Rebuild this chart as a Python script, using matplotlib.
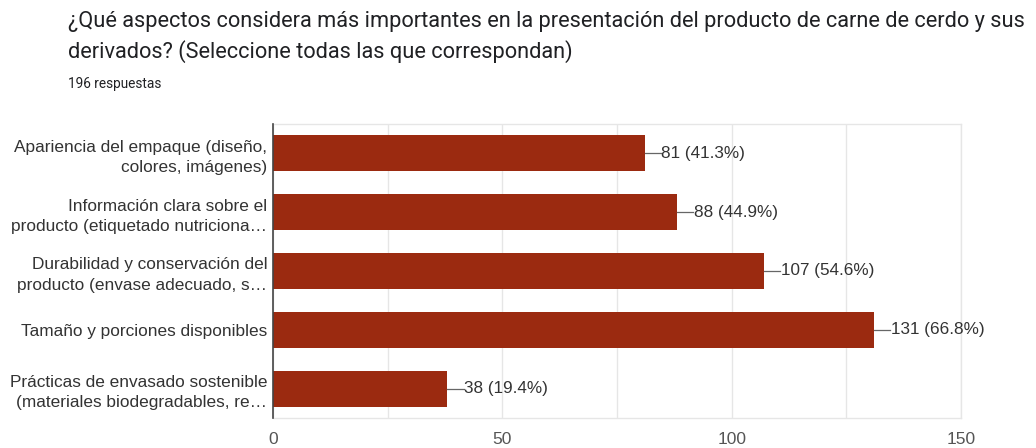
import matplotlib
matplotlib.use("Agg")
import matplotlib.pyplot as plt

plt.rcParams['font.family'] = ['Roboto', 'DejaVu Sans']

categories = [
    "Apariencia del empaque (diseño,\ncolores, imágenes)",
    "Información clara sobre el\nproducto (etiquetado nutriciona…",
    "Durabilidad y conservación del\nproducto (envase adecuado, s…",
    "Tamaño y porciones disponibles",
    "Prácticas de envasado sostenible\n(materiales biodegradables, re…",
]
values = [81, 88, 107, 131, 38]
percents = ["41.3%", "44.9%", "54.6%", "66.8%", "19.4%"]
xticks = [0, 50, 100, 150]
minor_ticks = [25, 75, 125]

title_lines = [
    "¿Qué aspectos considera más importantes en la presentación del producto de carne de cerdo y sus",
    "derivados? (Seleccione todas las que correspondan)",
]
subtitle = "196 respuestas"

chart_font = ['Liberation Sans', 'DejaVu Sans']

W, H = 1036, 448
fig = plt.figure(figsize=(W / 100, H / 100), dpi=100)
ax = fig.add_axes([273 / W, 1 - 418 / H, (961 - 273) / W, (418 - 124) / H])

bar_color = "#9b2a10"
ypos = list(range(len(categories)))
ax.barh(ypos, values, height=0.61, color=bar_color, zorder=3)
ax.set_ylim(len(categories) - 0.5, -0.5)
ax.set_xlim(0, 150)

for y, v, p in zip(ypos, values, percents):
    ax.plot([v, v + 3.6], [y, y], color="#666666", lw=0.9, zorder=3, clip_on=False)
    ax.text(v + 3.7, y, f"{v} ({p})", va="center", ha="left", fontsize=12.3,
            color="#333333", zorder=4, family=chart_font)

ax.set_yticks(ypos)
ax.set_yticklabels(categories, fontsize=12.4, color="#333333", linespacing=1.45,
                   family=chart_font)
ax.set_xticks(xticks)
ax.set_xticklabels([str(t) for t in xticks], fontsize=12.5, color="#555555",
                   family=chart_font)
ax.set_xticks(minor_ticks, minor=True)
ax.tick_params(axis="both", which="both", length=0)
ax.tick_params(axis="x", pad=10)
ax.tick_params(axis="y", pad=4)
ax.grid(axis="x", which="both", color="#e6e6e6", lw=1, zorder=0)

for s in ["top", "right", "bottom"]:
    ax.spines[s].set_color("#e6e6e6")
    ax.spines[s].set_linewidth(1)
ax.spines["left"].set_color("#444444")
ax.spines["left"].set_linewidth(1.2)
ax.spines["left"].set_zorder(5)

fig.text(68 / W, 1 - 22 / H, title_lines[0], fontsize=15.7, color="#202124",
         va="center", ha="left")
fig.text(68 / W, 1 - 52 / H, title_lines[1], fontsize=15.7, color="#202124",
         va="center", ha="left")
fig.text(68 / W, 1 - 84 / H, subtitle, fontsize=9.8, color="#202124", va="center", ha="left")

fig.savefig("out.png", dpi=100)
